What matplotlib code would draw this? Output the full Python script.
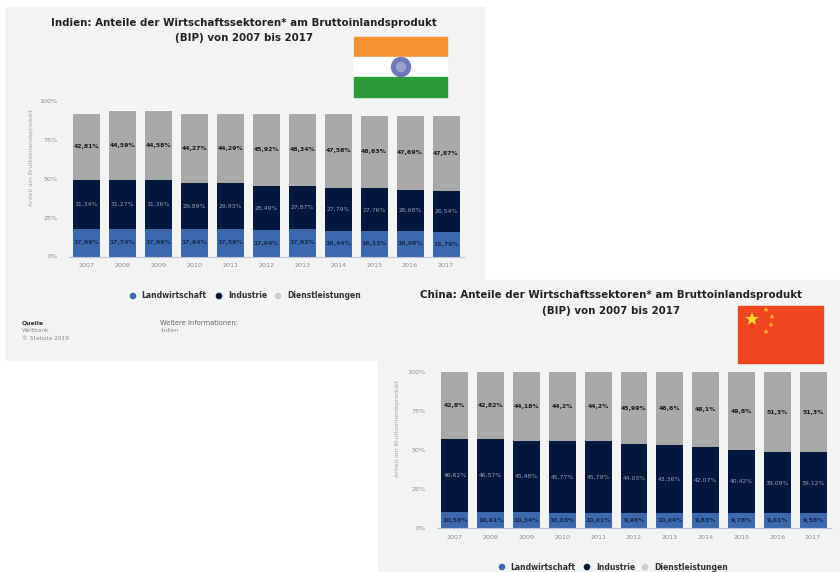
'''Two overlapping panels: sector shares of GDP for India and China'''
import matplotlib
matplotlib.use('Agg')
import matplotlib.pyplot as plt
from matplotlib.patches import Rectangle, Circle

W, H = 840, 572
BLUE, NAVY, GREY = '#3c68ae', '#04173d', '#a9a9a9'
PANEL = '#f2f3f3'

years = ['2007', '2008', '2009', '2010', '2011', '2012', '2013', '2014', '2015', '2016', '2017']
sectors = ['Landwirtschaft', 'Industrie', 'Dienstleistungen']
pct_ticks = ['0%', '25%', '50%', '75%', '100%']

india_agr = [17.69, 17.74, 17.66, 17.64, 17.58, 17.04, 17.63, 16.44, 16.13, 16.08, 15.79]
india_ind = [31.34, 31.27, 31.36, 29.89, 29.93, 28.49, 27.87, 27.79, 27.76, 26.68, 26.54]
india_srv = [42.81, 44.59, 44.58, 44.27, 44.29, 45.92, 46.34, 47.58, 46.63, 47.69, 47.87]

china_agr = [10.58, 10.61, 10.34, 10.03, 10.01, 9.98, 10.04, 9.83, 9.78, 9.61, 9.58]
china_ind = [46.62, 46.57, 45.48, 45.77, 45.79, 44.03, 43.36, 42.07, 40.42, 39.09, 39.12]
china_srv = [42.8, 42.82, 44.18, 44.2, 44.2, 45.99, 46.6, 48.1, 49.8, 51.3, 51.3]


def fmt(v):
    return f'{v:g}%'.replace('.', ',')


def px_axes(fig, left, right, top, bottom):
    return fig.add_axes([left / W, 1 - bottom / H, (right - left) / W, (bottom - top) / H])


def stacked(fig, box, agr, ind, srv, ylab_x, ylab_y):
    ax = px_axes(fig, *box)
    ax.patch.set_visible(False)
    bottom = [0] * len(years)
    for vals, col, txt in zip([agr, ind, srv], [BLUE, NAVY, GREY], ['#1a2a4a', '#8fa0b8', '#1a1a1a']):
        ax.bar(years, vals, 0.75, bottom=bottom, color=col)
        for i, v in enumerate(vals):
            ax.text(i, bottom[i] + v / 2, fmt(v), ha='center', va='center', fontsize=4.4,
                    color=txt, fontweight='bold' if col != NAVY else 'normal')
        bottom = [b + v for b, v in zip(bottom, vals)]
    ax.set_xlim(-0.5, 10.5)
    ax.set_ylim(0, 100)
    ax.set_yticks([0, 25, 50, 75, 100], labels=pct_ticks)
    ax.tick_params(length=0, labelsize=4.6, labelcolor='#8c8c8c')
    ax.tick_params(axis='y', pad=8)
    ax.tick_params(axis='x', pad=5)
    ax.spines[['top', 'right', 'left']].set_visible(False)
    ax.spines['bottom'].set_color('#b9c6da')
    ax.spines['bottom'].set_linewidth(0.8)
    fig.text(ylab_x / W, 1 - ylab_y / H, 'Anteil am Bruttoinlandsprodukt', rotation=90,
             ha='center', va='center', fontsize=4.4, color='#a5a5a5')
    return ax


def legend(bg, y, xs):
    for (mx, tx), name, col in zip(xs, sectors, [BLUE, NAVY, '#cfcfcf']):
        bg.add_patch(Circle((mx, y), 2.6, color=col))
        bg.text(tx, y, name, ha='left', va='center', fontsize=5.5, fontweight='bold', color='#333333')


fig = plt.figure(figsize=(W / 100, H / 100), dpi=100, facecolor='white')

# pixel canvas for the panels, flags and loose text
bg = fig.add_axes([0, 0, 1, 1])
bg.set_xlim(0, W)
bg.set_ylim(H, 0)
bg.axis('off')
bg.add_patch(Rectangle((6, 7), 478, 353, color=PANEL))
bg.add_patch(Rectangle((378, 280), 462, 292, color=PANEL))

# India
bg.text(244, 23, 'Indien: Anteile der Wirtschaftssektoren* am Bruttoinlandsprodukt', ha='center', va='center',
        fontsize=7.4, fontweight='bold', color='#222222')
bg.text(244, 38, '(BIP) von 2007 bis 2017', ha='center', va='center', fontsize=7.4, fontweight='bold', color='#222222')
bg.add_patch(Rectangle((354, 37), 93, 20, color='#f79232'))
bg.add_patch(Rectangle((354, 57), 93, 20, color='white'))
bg.add_patch(Rectangle((354, 77), 93, 20, color='#2a9a3a'))
bg.add_patch(Circle((401, 67), 9.5, color='#6f78b8'))
bg.add_patch(Circle((401, 67), 4.5, color='#9aa3d0'))
legend(bg, 296, [(133, 141), (219, 228), (278, 287)])
bg.text(22, 323, 'Quelle', fontsize=4.4, fontweight='bold', va='center', color='#333333')
bg.text(22, 331, 'Weltbank', fontsize=4.2, va='center', color='#8c8c8c')
bg.text(22, 338, '© Statista 2019', fontsize=4.2, va='center', color='#8c8c8c')
bg.text(160, 323, 'Weitere Informationen:', fontsize=4.9, va='center', color='#666666')
bg.text(160, 331, 'Indien', fontsize=4.2, va='center', color='#8c8c8c')

# China
bg.text(611, 295, 'China: Anteile der Wirtschaftssektoren* am Bruttoinlandsprodukt', ha='center', va='center',
        fontsize=7.4, fontweight='bold', color='#222222')
bg.text(611, 311, '(BIP) von 2007 bis 2017', ha='center', va='center', fontsize=7.4, fontweight='bold', color='#222222')
bg.add_patch(Rectangle((738, 306), 85, 57, color='#ee4420'))
bg.plot([752], [319], marker='*', ms=10, mew=0, color='#fbd52c')
bg.plot([766, 772, 771, 766], [310, 317, 325, 332], ls='', marker='*', ms=4, mew=0, color='#f7b52c')
legend(bg, 567, [(502, 510), (587, 596), (645, 654)])

stacked(fig, (68.7, 464, 101, 256.5), india_agr, india_ind, india_srv, 31, 158)
stacked(fig, (437, 831, 372.3, 528.3), china_agr, china_ind, china_srv, 398, 429)

plt.savefig('out.png', dpi=100)
